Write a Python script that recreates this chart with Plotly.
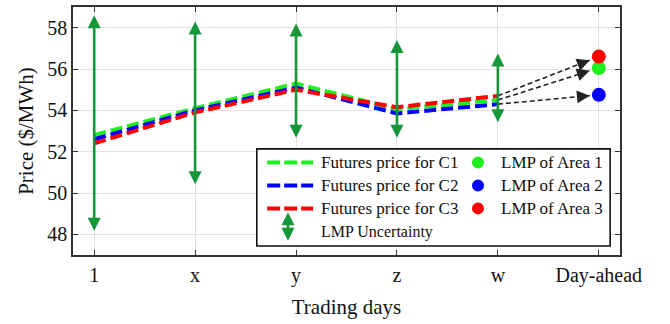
import plotly.graph_objects as go

# Trading-day categories along the x axis
days = ["1", "x", "y", "z", "w", "Day-ahead"]

# Futures prices ($/MWh) for contracts C1..C3 on the trading days 1..w
futures_c1 = [52.8, 54.1, 55.3, 54.05, 54.5]
futures_c2 = [52.6, 54.0, 55.1, 53.85, 54.3]
futures_c3 = [52.4, 53.9, 55.0, 54.15, 54.7]

# Day-ahead LMP for each area
lmp_area1 = 56.05
lmp_area2 = 54.75
lmp_area3 = 56.6

# LMP uncertainty band (low, high) on the trading days 1..w
unc_low = [48.1, 50.35, 52.6, 52.6, 53.35]
unc_high = [58.6, 58.3, 58.2, 57.4, 56.75]

y_ticks = [48, 50, 52, 54, 56, 58]

GREEN = "#1fee1f"
BLUE = "#0000ff"
RED = "#ff0000"
ARROW_GREEN = "#15963a"
FONT = "Liberation Serif, Times New Roman, serif"

x_idx = list(range(len(days)))
trade_idx = x_idx[:-1]
da_idx = x_idx[-1]

fig = go.Figure()

for vals, col, name in [(futures_c1, GREEN, "Futures price for C1"),
                        (futures_c2, BLUE, "Futures price for C2"),
                        (futures_c3, RED, "Futures price for C3")]:
    fig.add_trace(go.Scatter(x=trade_idx, y=vals, mode="lines", name=name,
                             line=dict(color=col, width=4, dash="12px,5px"),
                             showlegend=False))

# Dashed links from the last trading day to the day-ahead LMPs
links = [(futures_c3[-1], lmp_area3), (futures_c1[-1], lmp_area1), (futures_c2[-1], lmp_area2)]
frac = 0.91
for s, t in links:
    x0, x1 = trade_idx[-1], da_idx
    xe = x0 + frac * (x1 - x0)
    ye = s + frac * (t - s)
    fig.add_trace(go.Scatter(x=[x0, xe], y=[s, ye], mode="lines",
                             line=dict(color="#222222", width=1.6, dash="5px,3px"),
                             showlegend=False, hoverinfo="skip"))
    back = 0.06
    fig.add_annotation(x=xe, y=ye, ax=xe - back * (x1 - x0), ay=ye - back * (t - s),
                       xref="x", yref="y", axref="x", ayref="y", text="",
                       showarrow=True, arrowhead=2, arrowsize=1.6, arrowwidth=1.6,
                       arrowcolor="#222222")

# Day-ahead LMP markers
for val, col, name in [(lmp_area1, GREEN, "LMP of Area 1"),
                       (lmp_area2, BLUE, "LMP of Area 2"),
                       (lmp_area3, RED, "LMP of Area 3")]:
    fig.add_trace(go.Scatter(x=[da_idx], y=[val], mode="markers", name=name,
                             marker=dict(color=col, size=14), showlegend=False))

# LMP uncertainty double-headed arrows
for i, lo, hi in zip(trade_idx, unc_low, unc_high):
    fig.add_annotation(x=i, y=hi, ax=i, ay=lo, xref="x", yref="y", axref="x", ayref="y",
                       text="", showarrow=True, arrowhead=2, startarrowhead=2,
                       arrowside="end+start", arrowsize=1.0, startarrowsize=1.0,
                       arrowwidth=2.6, arrowcolor=ARROW_GREEN)

# Legend box drawn in paper coordinates
shapes = [dict(type="rect", xref="paper", yref="paper", x0=0.336, x1=0.982, y0=0.036, y1=0.428,
               line=dict(color="#111111", width=1.6), fillcolor="white", layer="above")]
rows = [0.373, 0.28, 0.188]
line_items = [(GREEN, "Futures price for C1"), (BLUE, "Futures price for C2"),
              (RED, "Futures price for C3")]
dot_items = [(GREEN, "LMP of Area 1"), (BLUE, "LMP of Area 2"), (RED, "LMP of Area 3")]
annotations = []
for ry, (col, txt) in zip(rows, line_items):
    shapes.append(dict(type="line", xref="paper", yref="paper", x0=0.355, x1=0.439, y0=ry, y1=ry,
                       line=dict(color=col, width=4, dash="13px,4px"), layer="above"))
    annotations.append(dict(x=0.449, y=ry, xref="paper", yref="paper", text=txt, showarrow=False,
                            xanchor="left", yanchor="middle", font=dict(family=FONT, size=17, color="#111")))
for ry, (col, txt) in zip(rows, dot_items):
    shapes.append(dict(type="circle", xref="paper", yref="paper", xsizemode="pixel",
                       ysizemode="pixel", xanchor=0.7404, yanchor=ry, x0=-6, x1=6, y0=-6, y1=6,
                       fillcolor=col, line=dict(color=col, width=0), layer="above"))
    annotations.append(dict(x=0.779, y=ry, xref="paper", yref="paper", text=txt, showarrow=False,
                            xanchor="left", yanchor="middle", font=dict(family=FONT, size=17, color="#111")))
annotations.append(dict(x=0.449, y=0.092, xref="paper", yref="paper", text="LMP Uncertainty",
                        showarrow=False, xanchor="left", yanchor="middle",
                        font=dict(family=FONT, size=16, color="#111")))
annotations.append(dict(x=0.393, y=0.172, xref="paper", yref="paper", ax=0, ay=30,
                        text="", showarrow=True, arrowhead=2, startarrowhead=2,
                        arrowside="end+start", arrowsize=1.0, startarrowsize=1.0,
                        arrowwidth=2.6, arrowcolor=ARROW_GREEN))
for a in annotations:
    fig.add_annotation(**a)

axis_common = dict(showline=True, linecolor="#333333", linewidth=1.5, mirror="ticks",
                   ticks="inside", ticklen=5, tickcolor="#333333", showgrid=True,
                   gridcolor="#e2e2e2", gridwidth=1, zeroline=False,
                   tickfont=dict(family=FONT, size=20, color="#111"))

fig.update_layout(
    width=670, height=324,
    margin=dict(l=73, r=50, t=5, b=69),
    paper_bgcolor="white", plot_bgcolor="white",
    font=dict(family=FONT),
    shapes=shapes,
    xaxis=dict(range=[-0.21, 5.21], tickvals=x_idx, ticktext=days, ticklabelstandoff=1,
               title=dict(text="Trading days", font=dict(family=FONT, size=21, color="#111"), standoff=14),
               **axis_common),
    yaxis=dict(range=[47, 59], tickvals=y_ticks,
               title=dict(text="Price ($/MWh)", font=dict(family=FONT, size=21, color="#111"), standoff=8),
               **axis_common),
    showlegend=False,
)

fig.write_html("out.html")
